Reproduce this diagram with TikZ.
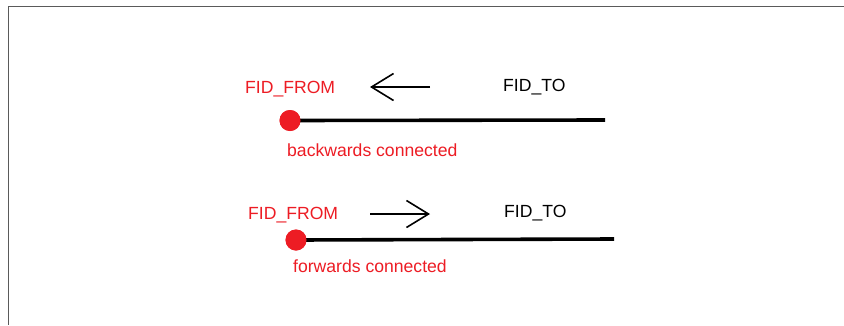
\documentclass[tikz,border=0pt]{standalone}
\usepackage{fontspec}
\setmainfont{Liberation Sans}
\usetikzlibrary{arrows.meta}
\definecolor{paintred}{HTML}{ED1C24}
\definecolor{framegray}{HTML}{5A5A5A}
\tikzset{
  lbl/.style={inner sep=0pt, anchor=base west, font=\fontsize{17.6}{20}\selectfont},
  redlbl/.style={lbl, text=paintred},
  blacklbl/.style={lbl, text=black},
  endpoint/.style={circle, fill=paintred, draw=none, minimum size=21pt, inner sep=0pt},
  feature/.style={line width=3.6pt, black},
  direction/.style={line width=1.6pt, -{Straight Barb[length=22pt,width=27pt,line width=1.6pt]}},
  frame/.style={line width=1.8pt, framegray}
}
\begin{document}
\begin{tikzpicture}[x=1pt,y=-1pt]
  \useasboundingbox (0,0) rectangle (844,325);
  \fill[white] (0,0) rectangle (844,325);
  % outer frame (top and left edges)
  \coordinate (ftop) at (844,6.5);
  \coordinate (fcorner) at (8.5,6.5);
  \coordinate (fbottom) at (8.5,325);
  \draw[frame] (ftop) -- (fcorner) -- (fbottom);

  % backwards connected
  \node[redlbl] (from1) at (245,93) {FID\_FROM};
  \node[blacklbl] (to1) at (503,91) {FID\_TO};
  \coordinate (a1tail) at (430,87);
  \coordinate (a1tip) at (370,87);
  \draw[direction] (a1tail) -- (a1tip);
  \coordinate (e1) at (605,120);
  \node[endpoint] (p1) at (290,120.5) {};
  \draw[feature] (p1.center) -- (e1);
  \node[endpoint] at (p1) {};
  \node[redlbl] (lab1) at (287,156.5) {backwards connected};

  % forwards connected
  \node[redlbl] (from2) at (248,219) {FID\_FROM};
  \node[blacklbl] (to2) at (504,217) {FID\_TO};
  \coordinate (a2tail) at (370,214);
  \coordinate (a2tip) at (430,214);
  \draw[direction] (a2tail) -- (a2tip);
  \coordinate (e2) at (614,239);
  \node[endpoint] (p2) at (296,240) {};
  \draw[feature] (p2.center) -- (e2);
  \node[endpoint] at (p2) {};
  \node[redlbl] (lab2) at (293,272) {forwards connected};
\end{tikzpicture}
\end{document}
